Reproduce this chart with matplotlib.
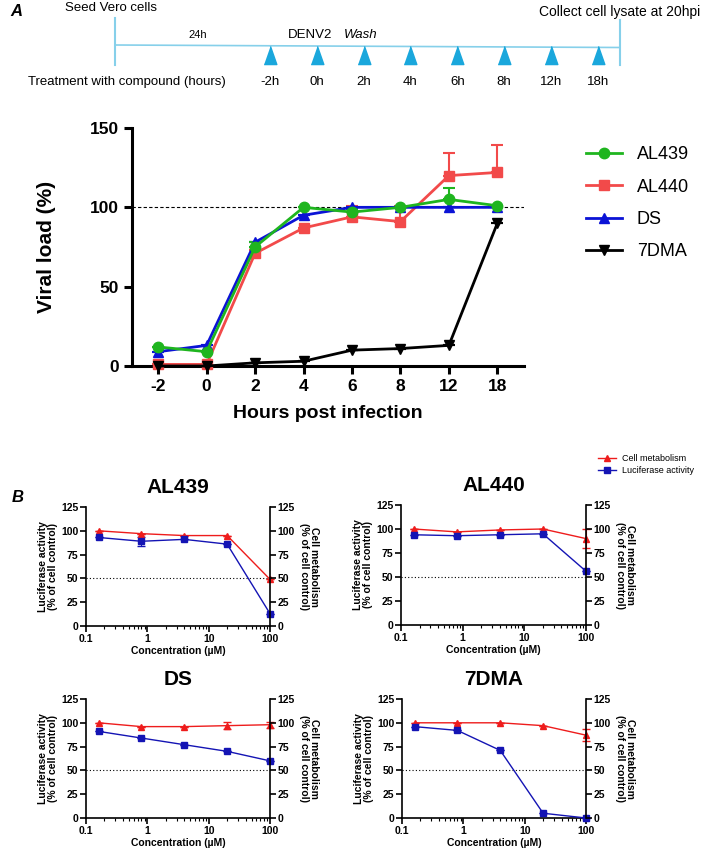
import numpy as np
import matplotlib.pyplot as plt
from matplotlib.lines import Line2D
from matplotlib.ticker import LogLocator, NullFormatter

plt.rcParams['font.family'] = ['Liberation Sans', 'DejaVu Sans']

W, H = 703, 850

# ---- data: panel A (time of addition) ----
hours = ["-2", "0", "2", "4", "6", "8", "12", "18"]
treat_labels = [h + "h" for h in hours]

al439 = [12, 9, 75, 100, 97, 100, 105, 101]
al439_err = [0, 0, 3, 0, 2, 0, 7, 0]
al440 = [1, 1, 71, 87, 94, 91, 120, 122]
al440_err = [0, 0, 2, 0, 7, 10, 14, 17]
ds = [9, 13, 78, 95, 100, 100, 100, 100]
ds_err = [0, 0, 0, 0, 0, 0, 0, 0]
dma = [0, 0, 2, 3, 10, 11, 13, 90]
dma_err = [0, 0, 0, 0, 0, 0, 0, 0]

# ---- data: panel B (dose response) ----
conc = [0.16, 0.8, 4, 20, 100]
compounds = ["AL439", "AL440", "DS", "7DMA"]
metab = {
    "AL439": [100, 97, 95, 95, 49],
    "AL440": [100, 97, 99, 100, 90],
    "DS": [100, 96, 96, 97, 98],
    "7DMA": [100, 100, 100, 97, 87],
}
metab_err = {
    "AL439": [0, 0, 0, 0, 0],
    "AL440": [0, 0, 0, 0, 10],
    "DS": [0, 0, 0, 4, 3],
    "7DMA": [0, 0, 0, 0, 6],
}
luc = {
    "AL439": [93, 89, 91, 86, 13],
    "AL440": [94, 93, 94, 95, 56],
    "DS": [91, 84, 77, 70, 60],
    "7DMA": [96, 92, 71, 5, 0],
}
luc_err = {
    "AL439": [0, 5, 0, 0, 0],
    "AL440": [0, 0, 0, 0, 0],
    "DS": [0, 0, 0, 0, 0],
    "7DMA": [0, 0, 0, 0, 0],
}


def box(l, t, r, b):
    return [l / W, 1 - b / H, (r - l) / W, (b - t) / H]


fig = plt.figure(figsize=(W / 100, H / 100), dpi=100)


def ftxt(x, y, s, **kw):
    fig.text(x / W, 1 - y / H, s, **kw)


# ---------------- timeline ----------------
tl = fig.add_axes(box(115, 0, 620, 105))
tl.set_xlim(-3.3, 7.47)
tl.set_ylim(105, 0)
tl.axis('off')
line_c = '#86d0ea'
arrow_c = '#1aa7dc'
tl.plot([-3.3, 7.47], [45, 47.5], color=line_c, lw=1.2, clip_on=False)
tl.plot([-3.3, -3.3], [18, 65], color=line_c, lw=1.5, clip_on=False)
tl.plot([7.47, 7.47], [20, 65], color=line_c, lw=1.5, clip_on=False)
idx = np.arange(len(treat_labels))
tri = [(-0.7, -1), (0.7, -1), (0, 1)]
tl.scatter(idx, [55] * len(idx), marker=tri, s=170, color=arrow_c, zorder=3)
for i, lab in enumerate(treat_labels):
    tl.text(i, 82, lab, ha='center', va='center', fontsize=9.5)
tl.text(-1.53, 35, "24h", ha='center', va='center', fontsize=8)
tl.text(0.87, 35, "DENV2", ha='center', va='center', fontsize=9.5)
tl.text(1.95, 35, "Wash", ha='center', va='center', fontsize=9.5, style='italic')

ftxt(10, 12, "A", fontsize=12, fontweight='bold', style='italic', va='center')
ftxt(65, 8, "Seed Vero cells", fontsize=9.5, va='center')
ftxt(700, 12, "Collect cell lysate at 20hpi", fontsize=10, va='center', ha='right')
ftxt(28, 82, "Treatment with compound (hours)", fontsize=9.5, va='center')

# ---------------- panel A main plot ----------------
ax = fig.add_axes(box(132, 128, 524, 366))
x = np.arange(len(hours))
series = [
    ("AL440", al440, al440_err, '#f24a4a', 's'),
    ("DS", ds, ds_err, '#0b13d6', '^'),
    ("AL439", al439, al439_err, '#1fb51f', 'o'),
    ("7DMA", dma, dma_err, 'black', 'v'),
]
ax.axhline(100, color='black', ls=(0, (3, 2)), lw=0.8, zorder=1)
for name, vals, err, col, mk in series:
    ax.errorbar(x, vals, yerr=[np.zeros(len(err)), err], color=col, marker=mk,
                ms=7.5, lw=2, capsize=4, capthick=1.5, elinewidth=1.5,
                clip_on=False, zorder=3)
ax.set_xlim(-0.54, 7.55)
ax.set_ylim(0, 150)
ax.set_yticks([0, 50, 100, 150])
ax.set_xticks(x)
ax.set_xticklabels(hours)
for s in ['top', 'right']:
    ax.spines[s].set_visible(False)
for s in ['left', 'bottom']:
    ax.spines[s].set_linewidth(2.2)
ax.tick_params(width=2.2, length=6, labelsize=12.5)
for t in ax.get_xticklabels() + ax.get_yticklabels():
    t.set_fontweight('bold')
ax.set_ylabel("Viral load (%)", fontsize=15, fontweight='bold', labelpad=24)
ax.set_xlabel("Hours post infection", fontsize=14, fontweight='bold', labelpad=8)

leg_order = ["AL439", "AL440", "DS", "7DMA"]
style = {s[0]: (s[3], s[4]) for s in series}
handles = [Line2D([], [], color=style[n][0], marker=style[n][1], ms=7.5, lw=2)
           for n in leg_order]
fig.legend(handles=handles, labels=leg_order, loc='upper left',
           bbox_to_anchor=(570 / W, 1 - 130 / H), frameon=False, fontsize=13,
           labelspacing=0.85, handlelength=2.0, handletextpad=0.8)

# ---------------- panel B ----------------
ftxt(12, 497, "B", fontsize=12, fontweight='bold', style='italic', va='center')

boxes = {
    "AL439": (86, 507, 270, 626),
    "AL440": (401, 505, 586, 625),
    "DS": (86, 699, 270, 818),
    "7DMA": (402, 699, 586, 818),
}
red = '#ee1c1c'
blue = '#1414b4'
for name in compounds:
    l, t, r, b = boxes[name]
    bx = fig.add_axes(box(l, t, r, b))
    bx.set_xscale('log')
    bx.axhline(50, color='black', ls=(0, (1, 2)), lw=0.8, zorder=1)
    bx.errorbar(conc, metab[name], yerr=metab_err[name], color=red, marker='^',
                ms=4, lw=1, capsize=3, elinewidth=0.8, clip_on=False, zorder=3)
    bx.errorbar(conc, luc[name], yerr=luc_err[name], color=blue, marker='s',
                ms=4.5, lw=1, capsize=3, elinewidth=0.8, clip_on=False, zorder=3)
    bx.set_xlim(0.1, 100)
    bx.set_ylim(0, 125)
    bx.set_yticks([0, 25, 50, 75, 100, 125])
    bx.set_xticks([0.1, 1, 10, 100])
    bx.set_xticklabels(["0.1", "1", "10", "100"])
    bx.xaxis.set_minor_locator(LogLocator(base=10, subs=np.arange(2, 10)))
    bx.xaxis.set_minor_formatter(NullFormatter())
    bx.spines['top'].set_visible(False)
    bx.spines['right'].set_visible(False)
    for s in ['left', 'bottom']:
        bx.spines[s].set_linewidth(1.2)
    bx.tick_params(which='major', width=1.2, length=4, labelsize=7.5, pad=1.5)
    bx.tick_params(which='minor', width=0.8, length=2)
    for tk in bx.get_xticklabels() + bx.get_yticklabels():
        tk.set_fontweight('bold')
    bx.set_title(name, fontsize=15, fontweight='bold', pad=10)
    bx.set_xlabel("Concentration (µM)", fontsize=7.5, fontweight='bold', labelpad=2)
    bx.set_ylabel("Luciferase activity\n(% of cell control)", fontsize=7.5,
                  fontweight='bold', linespacing=1.0, labelpad=2)

    tw = bx.twinx()
    tw.set_ylim(0, 125)
    tw.set_yticks([0, 25, 50, 75, 100, 125])
    for s in ['top', 'left', 'bottom']:
        tw.spines[s].set_visible(False)
    tw.spines['right'].set_linewidth(1.2)
    tw.tick_params(width=1.2, length=4, labelsize=7.5, pad=1.5)
    for tk in tw.get_yticklabels():
        tk.set_fontweight('bold')
    tw.set_ylabel("Cell metabolism\n(% of cell control)", fontsize=7.5,
                  fontweight='bold', rotation=270, va='bottom', linespacing=1.0,
                  labelpad=3)

leg_h = [Line2D([], [], color=red, marker='^', ms=4, lw=1),
         Line2D([], [], color=blue, marker='s', ms=4.5, lw=1)]
fig.legend(handles=leg_h, labels=["Cell metabolism", "Luciferase activity"],
           loc='upper left', bbox_to_anchor=(590 / W, 1 - 446 / H), frameon=False,
           fontsize=6.5, handlelength=2.0, labelspacing=0.3, handletextpad=0.6)

plt.savefig("out.png", dpi=100)
